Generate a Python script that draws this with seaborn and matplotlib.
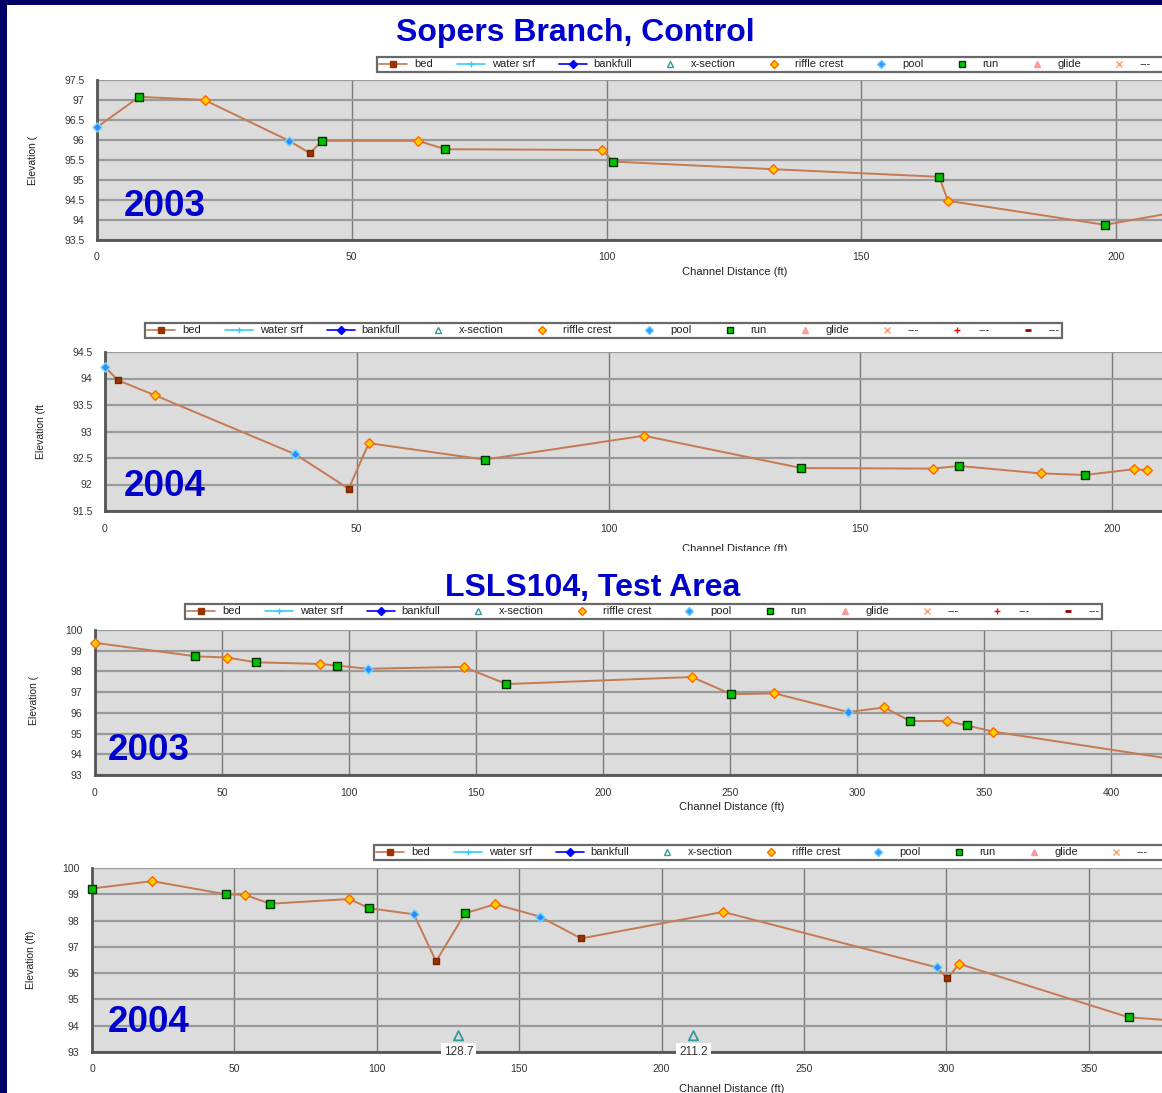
import numpy as np
import pandas as pd
import matplotlib
matplotlib.use("Agg")
import matplotlib.pyplot as plt
from matplotlib.lines import Line2D
from matplotlib.patches import Rectangle
import seaborn as sns

# ---------------- data ----------------
# Sopers Branch, Control - 2003
sb03_dist = [0, 8.3, 21.1, 37.7, 41.8, 44.2, 63.0, 68.4, 99.2, 101.3, 132.7, 165.3, 167.0, 197.8, 212.0]
sb03_elev = [96.32, 97.08, 97.0, 95.98, 95.67, 95.98, 95.98, 95.77, 95.75, 95.46, 95.27, 95.08, 94.48, 93.88, 94.2]
sb03_type = ["pool", "run", "riffle crest", "pool", "bed", "run", "riffle crest", "run", "riffle crest",
             "run", "riffle crest", "run", "riffle crest", "run", "bed"]

# Sopers Branch, Control - 2004
sb04_dist = [0, 2.5, 10.0, 37.8, 48.4, 52.4, 75.4, 107.0, 138.3, 164.4, 169.6, 185.8, 194.7, 204.4, 206.9]
sb04_elev = [94.22, 93.97, 93.68, 92.57, 91.92, 92.78, 92.47, 92.92, 92.31, 92.3, 92.35, 92.21, 92.18, 92.29, 92.27]
sb04_type = ["pool", "bed", "riffle crest", "pool", "bed", "riffle crest", "run", "riffle crest", "run",
             "riffle crest", "run", "riffle crest", "run", "riffle crest", "riffle crest"]

# LSLS104, Test Area - 2003
ls03_dist = [0, 39.5, 52.0, 63.4, 88.6, 95.3, 107.3, 145.1, 162.0, 235.0, 250.5, 267.5, 296.5, 310.7,
             321.0, 335.3, 343.3, 353.4, 425.0]
ls03_elev = [99.38, 98.73, 98.67, 98.44, 98.36, 98.28, 98.13, 98.22, 97.39, 97.73, 96.9, 96.94, 96.04, 96.26,
             95.6, 95.61, 95.39, 95.1, 93.75]
ls03_type = ["riffle crest", "run", "riffle crest", "run", "riffle crest", "run", "pool", "riffle crest", "run",
             "riffle crest", "run", "riffle crest", "pool", "riffle crest", "run", "riffle crest", "run",
             "riffle crest", "bed"]

# LSLS104, Test Area - 2004
ls04_dist = [0, 21.1, 47.0, 53.7, 62.5, 90.4, 97.3, 113.0, 120.8, 131.0, 141.6, 157.3, 171.7, 221.6,
             296.6, 300.3, 304.5, 364.0, 382.0]
ls04_elev = [99.22, 99.5, 99.0, 98.98, 98.64, 98.82, 98.47, 98.24, 96.45, 98.28, 98.62, 98.15, 97.32, 98.33,
             96.22, 95.8, 96.35, 94.32, 94.18]
ls04_type = ["run", "riffle crest", "run", "riffle crest", "run", "riffle crest", "run", "pool", "bed", "run",
             "riffle crest", "pool", "bed", "riffle crest", "pool", "bed", "riffle crest", "run", "bed"]
ls04_xsec_dist = [128.7, 211.2]
ls04_xsec_elev = [93.62, 93.62]
ls04_xsec_labels = ["128.7", "211.2"]

legend_labels = ["bed", "water srf", "bankfull", "x-section", "riffle crest", "pool", "run", "glide",
                 "---", "---", "---"]

titles = ["Sopers Branch, Control", "LSLS104, Test Area"]
years = ["2003", "2004", "2003", "2004"]

sb_yticks = [93.5, 94, 94.5, 95, 95.5, 96, 96.5, 97, 97.5]
sb04_yticks = [91.5, 92, 92.5, 93, 93.5, 94, 94.5]
ls_yticks = [93, 94, 95, 96, 97, 98, 99, 100]
sb_xticks = [0, 50, 100, 150, 200]
ls03_xticks = [0, 50, 100, 150, 200, 250, 300, 350, 400]
ls04_xticks = [0, 50, 100, 150, 200, 250, 300, 350]

# ---------------- style ----------------
sns.set_style("white")
plt.rcParams["font.family"] = ["Liberation Sans", "DejaVu Sans"]

W, H = 1162, 1093
fig = plt.figure(figsize=(W / 100, H / 100), dpi=100, facecolor="white")

LINE_COL = "#C47A52"
BLUE = "#0000CC"
TICK_COL = "#333333"

marker_style = {
    "bed": dict(marker="s", color="#993300", edgecolor="#7a2600", s=20),
    "pool": dict(marker="D", color="#3388FF", edgecolor="#66DDFF", s=22),
    "run": dict(marker="s", color="#00C000", edgecolor="#003300", s=34),
    "riffle crest": dict(marker="D", color="#FFCC00", edgecolor="#FF6600", s=24),
}


def fx(px):
    return px / W


def fy(py):
    return 1 - py / H


def make_axes(left, top, bottom, px_per_unit):
    right = W
    ax = fig.add_axes([left / W, 1 - bottom / H, (right - left) / W, (bottom - top) / H])
    ax.set_xlim(0, (right - left) / px_per_unit)
    return ax


def draw_panel(ax, dist, elev, types, yticks, xticks):
    df = pd.DataFrame({"dist": dist, "elev": elev, "type": types})
    sns.lineplot(data=df, x="dist", y="elev", sort=False, estimator=None, color=LINE_COL,
                 lw=1.4, ax=ax, zorder=3)
    for t, st in marker_style.items():
        sub = df[df["type"] == t]
        if len(sub) == 0:
            continue
        sns.scatterplot(data=sub, x="dist", y="elev", marker=st["marker"], color=st["color"],
                        edgecolor=st["edgecolor"], linewidth=1.0, s=st["s"], ax=ax, zorder=4,
                        clip_on=False, legend=False)
    ax.set_facecolor("#DCDCDC")
    ax.set_ylim(yticks[0], yticks[-1])
    ax.set_yticks(yticks)
    ax.set_yticklabels([f"{v:g}" for v in yticks])
    ax.set_xticks(xticks)
    ax.set_xticklabels([f"{v:g}" for v in xticks])
    ax.set_xlabel("")
    ax.set_ylabel("")
    ax.set_axisbelow(True)
    ax.yaxis.grid(True, color="#9a9a9a", lw=1.6)
    ax.xaxis.grid(True, color="#7a7a7a", lw=1.0)
    for s in ["top", "right"]:
        ax.spines[s].set_visible(False)
    for s in ["left", "bottom"]:
        ax.spines[s].set_color("#555555")
        ax.spines[s].set_linewidth(2.0)
    ax.tick_params(axis="both", direction="inout", length=6, width=1.2, color="#555555",
                   labelsize=7.5, labelcolor=TICK_COL, pad=6)


def make_legend(left_px, top_px):
    lw = 1.2
    handles = [
        Line2D([], [], color=LINE_COL, lw=lw, marker="s", mfc="#993300", mec="#993300", ms=4),
        Line2D([], [], color="#33CCFF", lw=lw, marker="+", mec="#33CCFF", ms=4),
        Line2D([], [], color="#0000FF", lw=lw, marker="D", mfc="#0000FF", mec="#0000FF", ms=4),
        Line2D([], [], ls="none", marker="^", mfc="none", mec="#339999", ms=5),
        Line2D([], [], ls="none", marker="D", mfc="#FFCC00", mec="#FF6600", ms=4.5),
        Line2D([], [], ls="none", marker="D", mfc="#3399FF", mec="#66CCFF", ms=4.5),
        Line2D([], [], ls="none", marker="s", mfc="#00CC00", mec="#003300", ms=4.5),
        Line2D([], [], ls="none", marker="^", mfc="#FF9999", mec="#FF9999", ms=5),
        Line2D([], [], ls="none", marker="x", mec="#FF9966", ms=4),
        Line2D([], [], ls="none", marker="+", mec="#FF0000", ms=5),
        Line2D([], [], ls="none", marker="_", mec="#990000", ms=5, mew=2),
    ]
    leg = fig.legend(handles, legend_labels, loc="upper left",
                     bbox_to_anchor=(fx(left_px), fy(top_px)), bbox_transform=fig.transFigure,
                     ncol=11, fontsize=8, frameon=True, fancybox=False, borderpad=0.22,
                     handlelength=2.5, handletextpad=0.6, columnspacing=2.2, borderaxespad=0)
    fr = leg.get_frame()
    fr.set_edgecolor("#444444")
    fr.set_linewidth(1.6)
    fr.set_facecolor("white")
    for t in leg.get_texts():
        t.set_color("#222222")
    return leg


# ---------------- panels ----------------
ax1 = make_axes(97, 80, 240, 5.095)
draw_panel(ax1, sb03_dist, sb03_elev, sb03_type, sb_yticks, sb_xticks)

ax2 = make_axes(105, 352, 511, 5.035)
draw_panel(ax2, sb04_dist, sb04_elev, sb04_type, sb04_yticks, sb_xticks)

ax3 = make_axes(95, 630, 775, 2.54)
draw_panel(ax3, ls03_dist, ls03_elev, ls03_type, ls_yticks, ls03_xticks)

ax4 = make_axes(92, 868, 1052, 2.848)
draw_panel(ax4, ls04_dist, ls04_elev, ls04_type, ls_yticks, ls04_xticks)
sns.scatterplot(x=ls04_xsec_dist, y=ls04_xsec_elev, marker="^", s=45, facecolor="none",
                edgecolor="#339999", linewidth=1.3, ax=ax4, zorder=4, legend=False)
for xv, lab in zip(ls04_xsec_dist, ls04_xsec_labels):
    ax4.text(xv, 93.0, lab, ha="center", va="center", fontsize=8.5, color="#333333", zorder=6,
             clip_on=False, bbox=dict(facecolor="white", edgecolor="none", pad=2))

# legends
make_legend(377, 57)
make_legend(145, 323)
make_legend(185, 604)
make_legend(374, 845)

# axis titles
xlab_kw = dict(ha="center", va="center", fontsize=8, color="#222222")
fig.text(fx(735), fy(272), "Channel Distance (ft)", **xlab_kw)
fig.text(fx(735), fy(549), "Channel Distance (ft)", zorder=3, **xlab_kw)
fig.text(fx(732), fy(807), "Channel Distance (ft)", **xlab_kw)
fig.text(fx(732), fy(1089), "Channel Distance (ft)", **xlab_kw)

ylab_kw = dict(ha="center", va="center", fontsize=7.5, color="#222222", rotation=90)
fig.text(fx(33), fy(160), "Elevation (", **ylab_kw)
fig.text(fx(41), fy(432), "Elevation (ft", **ylab_kw)
fig.text(fx(34), fy(700), "Elevation (", **ylab_kw)
fig.text(fx(31), fy(960), "Elevation (ft)", **ylab_kw)

# white cover that crops the second chart's x label
fig.add_artist(Rectangle((fx(8), fy(575)), fx(1162 - 8), (575 - 551) / H, transform=fig.transFigure,
                         facecolor="white", edgecolor="none", zorder=5))

# titles and year labels
title_kw = dict(ha="center", va="center", fontsize=23, fontweight="bold", color=BLUE, zorder=6)
fig.text(fx(575), fy(33), titles[0], **title_kw)
fig.text(fx(593), fy(588), titles[1], **title_kw)

year_kw = dict(ha="center", va="center", fontsize=26.5, fontweight="bold", color=BLUE, zorder=6)
fig.text(fx(165), fy(207), years[0], **year_kw)
fig.text(fx(165), fy(487), years[1], **year_kw)
fig.text(fx(149), fy(750), years[2], **year_kw)
fig.text(fx(149), fy(1022), years[3], **year_kw)

# navy frame strips
NAVY = "#000066"
fig.add_artist(Rectangle((0, fy(5)), 1, 5 / H, transform=fig.transFigure,
                         facecolor=NAVY, edgecolor="none", zorder=10))
fig.add_artist(Rectangle((0, 0), fx(7), 1, transform=fig.transFigure,
                         facecolor=NAVY, edgecolor="none", zorder=10))

fig.savefig("out.png", dpi=100, facecolor="white")
